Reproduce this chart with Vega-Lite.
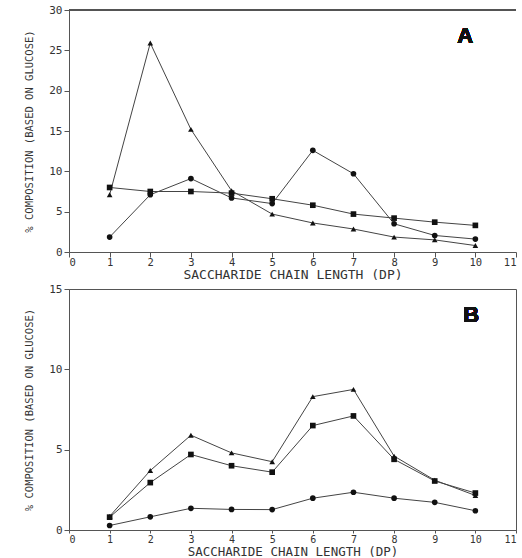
{
  "$schema": "https://vega.github.io/schema/vega-lite/v6.json",
  "background": "white",
  "padding": {"left": 24, "top": 4, "right": 0, "bottom": 0},
  "spacing": 0,
  "config": {
    "font": "DejaVu Sans Mono",
    "view": {"stroke": null},
    "axis": {
      "grid": false,
      "domainColor": "#555",
      "tickColor": "#555",
      "labelColor": "#333",
      "titleColor": "#333",
      "labelFont": "DejaVu Sans Mono",
      "titleFont": "DejaVu Sans Mono",
      "titleFontWeight": "normal",
      "labelFontSize": 11,
      "tickSize": 5
    }
  },
  "datasets": {
    "d": [
      {"panel": "A", "series": "tri", "dp": 1, "value": 7.1},
      {"panel": "A", "series": "tri", "dp": 2, "value": 25.9},
      {"panel": "A", "series": "tri", "dp": 3, "value": 15.2},
      {"panel": "A", "series": "tri", "dp": 4, "value": 7.6},
      {"panel": "A", "series": "tri", "dp": 5, "value": 4.7},
      {"panel": "A", "series": "tri", "dp": 6, "value": 3.6},
      {"panel": "A", "series": "tri", "dp": 7, "value": 2.85},
      {"panel": "A", "series": "tri", "dp": 8, "value": 1.85},
      {"panel": "A", "series": "tri", "dp": 9, "value": 1.5},
      {"panel": "A", "series": "tri", "dp": 10, "value": 0.8},
      {"panel": "A", "series": "circ", "dp": 1, "value": 1.85},
      {"panel": "A", "series": "circ", "dp": 2, "value": 7.1},
      {"panel": "A", "series": "circ", "dp": 3, "value": 9.1},
      {"panel": "A", "series": "circ", "dp": 4, "value": 6.7},
      {"panel": "A", "series": "circ", "dp": 5, "value": 6.0},
      {"panel": "A", "series": "circ", "dp": 6, "value": 12.6},
      {"panel": "A", "series": "circ", "dp": 7, "value": 9.7},
      {"panel": "A", "series": "circ", "dp": 8, "value": 3.5},
      {"panel": "A", "series": "circ", "dp": 9, "value": 2.05},
      {"panel": "A", "series": "circ", "dp": 10, "value": 1.6},
      {"panel": "A", "series": "sq", "dp": 1, "value": 8.0},
      {"panel": "A", "series": "sq", "dp": 2, "value": 7.5},
      {"panel": "A", "series": "sq", "dp": 3, "value": 7.5},
      {"panel": "A", "series": "sq", "dp": 4, "value": 7.3},
      {"panel": "A", "series": "sq", "dp": 5, "value": 6.6},
      {"panel": "A", "series": "sq", "dp": 6, "value": 5.8},
      {"panel": "A", "series": "sq", "dp": 7, "value": 4.7},
      {"panel": "A", "series": "sq", "dp": 8, "value": 4.2},
      {"panel": "A", "series": "sq", "dp": 9, "value": 3.7},
      {"panel": "A", "series": "sq", "dp": 10, "value": 3.3},
      {"panel": "B", "series": "tri", "dp": 1, "value": 0.85},
      {"panel": "B", "series": "tri", "dp": 2, "value": 3.7},
      {"panel": "B", "series": "tri", "dp": 3, "value": 5.9},
      {"panel": "B", "series": "tri", "dp": 4, "value": 4.8},
      {"panel": "B", "series": "tri", "dp": 5, "value": 4.25},
      {"panel": "B", "series": "tri", "dp": 6, "value": 8.3},
      {"panel": "B", "series": "tri", "dp": 7, "value": 8.75},
      {"panel": "B", "series": "tri", "dp": 8, "value": 4.6},
      {"panel": "B", "series": "tri", "dp": 9, "value": 3.1},
      {"panel": "B", "series": "tri", "dp": 10, "value": 2.15},
      {"panel": "B", "series": "sq", "dp": 1, "value": 0.8},
      {"panel": "B", "series": "sq", "dp": 2, "value": 2.95},
      {"panel": "B", "series": "sq", "dp": 3, "value": 4.7},
      {"panel": "B", "series": "sq", "dp": 4, "value": 4.0},
      {"panel": "B", "series": "sq", "dp": 5, "value": 3.6},
      {"panel": "B", "series": "sq", "dp": 6, "value": 6.5},
      {"panel": "B", "series": "sq", "dp": 7, "value": 7.1},
      {"panel": "B", "series": "sq", "dp": 8, "value": 4.4},
      {"panel": "B", "series": "sq", "dp": 9, "value": 3.05},
      {"panel": "B", "series": "sq", "dp": 10, "value": 2.3},
      {"panel": "B", "series": "circ", "dp": 1, "value": 0.28},
      {"panel": "B", "series": "circ", "dp": 2, "value": 0.82},
      {"panel": "B", "series": "circ", "dp": 3, "value": 1.35},
      {"panel": "B", "series": "circ", "dp": 4, "value": 1.28},
      {"panel": "B", "series": "circ", "dp": 5, "value": 1.27},
      {"panel": "B", "series": "circ", "dp": 6, "value": 1.98},
      {"panel": "B", "series": "circ", "dp": 7, "value": 2.35},
      {"panel": "B", "series": "circ", "dp": 8, "value": 1.98},
      {"panel": "B", "series": "circ", "dp": 9, "value": 1.72},
      {"panel": "B", "series": "circ", "dp": 10, "value": 1.2}
    ]
  },
  "vconcat": [
    {
      "width": 447,
      "height": 242,
      "data": {"name": "d"},
      "transform": [{"filter": "datum.panel === 'A'"}],
      "encoding": {
        "x": {"field": "dp", "type": "quantitative",
          "scale": {"domain": [0, 11], "nice": false},
          "axis": {"values": [0,1,2,3,4,5,6,7,8,9,10,11], "labelDx": 3, "labelPadding": 0, "labelFontSize": 10.5, "title": "SACCHARIDE CHAIN LENGTH (DP)", "titleFontSize": 13, "titlePadding": 1}},
        "y": {"field": "value", "type": "quantitative",
          "scale": {"domain": [0, 30], "nice": false},
          "axis": {"values": [0,5,10,15,20,25,30], "title": "% COMPOSITION (BASED ON GLUCOSE)", "titleFontSize": 10.5, "titlePadding": 14}}
      },
      "layer": [
        {"mark": {"type": "rule", "color": "#555", "strokeWidth": 1}, "encoding": {"x": {"datum": 0}, "x2": {"datum": 11}, "y": {"datum": 30}}},
        {"mark": {"type": "line", "color": "#444", "strokeWidth": 1}, "encoding": {"detail": {"field": "series"}}},
        {"mark": {"type": "point", "filled": true, "opacity": 1, "color": "#111", "size": 32},
          "encoding": {"shape": {"field": "series", "type": "nominal", "legend": null,
            "scale": {"domain": ["tri", "sq", "circ"], "range": ["triangle-up", "square", "circle"]}}}},
        {"mark": {"type": "text", "font": "Liberation Sans", "fontSize": 22, "fontWeight": "bold", "color": "#111"},
          "encoding": {"x": {"datum": 9.75}, "y": {"datum": 26.8}, "text": {"value": "A"}}}
      ]
    },
    {
      "width": 447,
      "height": 241,
      "view": {"stroke": "#555"},
      "data": {"name": "d"},
      "transform": [{"filter": "datum.panel === 'B'"}],
      "encoding": {
        "x": {"field": "dp", "type": "quantitative",
          "scale": {"domain": [0, 11], "nice": false},
          "axis": {"values": [0,1,2,3,4,5,6,7,8,9,10,11], "labelDx": 3, "tickSize": 3, "labelPadding": 1, "labelFontSize": 10, "title": "SACCHARIDE CHAIN LENGTH (DP)", "titleFontSize": 12.5, "titlePadding": 1}},
        "y": {"field": "value", "type": "quantitative",
          "scale": {"domain": [0, 15], "nice": false},
          "axis": {"values": [0,5,10,15], "title": "% COMPOSITION (BASED ON GLUCOSE)", "titleFontSize": 10.5, "titlePadding": 14}}
      },
      "layer": [
        {"mark": {"type": "line", "color": "#444", "strokeWidth": 1}, "encoding": {"detail": {"field": "series"}}},
        {"mark": {"type": "point", "filled": true, "opacity": 1, "color": "#111", "size": 32},
          "encoding": {"shape": {"field": "series", "type": "nominal", "legend": null,
            "scale": {"domain": ["tri", "sq", "circ"], "range": ["triangle-up", "square", "circle"]}}}},
        {"mark": {"type": "text", "font": "Liberation Sans", "fontSize": 22, "fontWeight": "bold", "color": "#111"},
          "encoding": {"x": {"datum": 9.9}, "y": {"datum": 13.4}, "text": {"value": "B"}}}
      ]
    }
  ]
}
